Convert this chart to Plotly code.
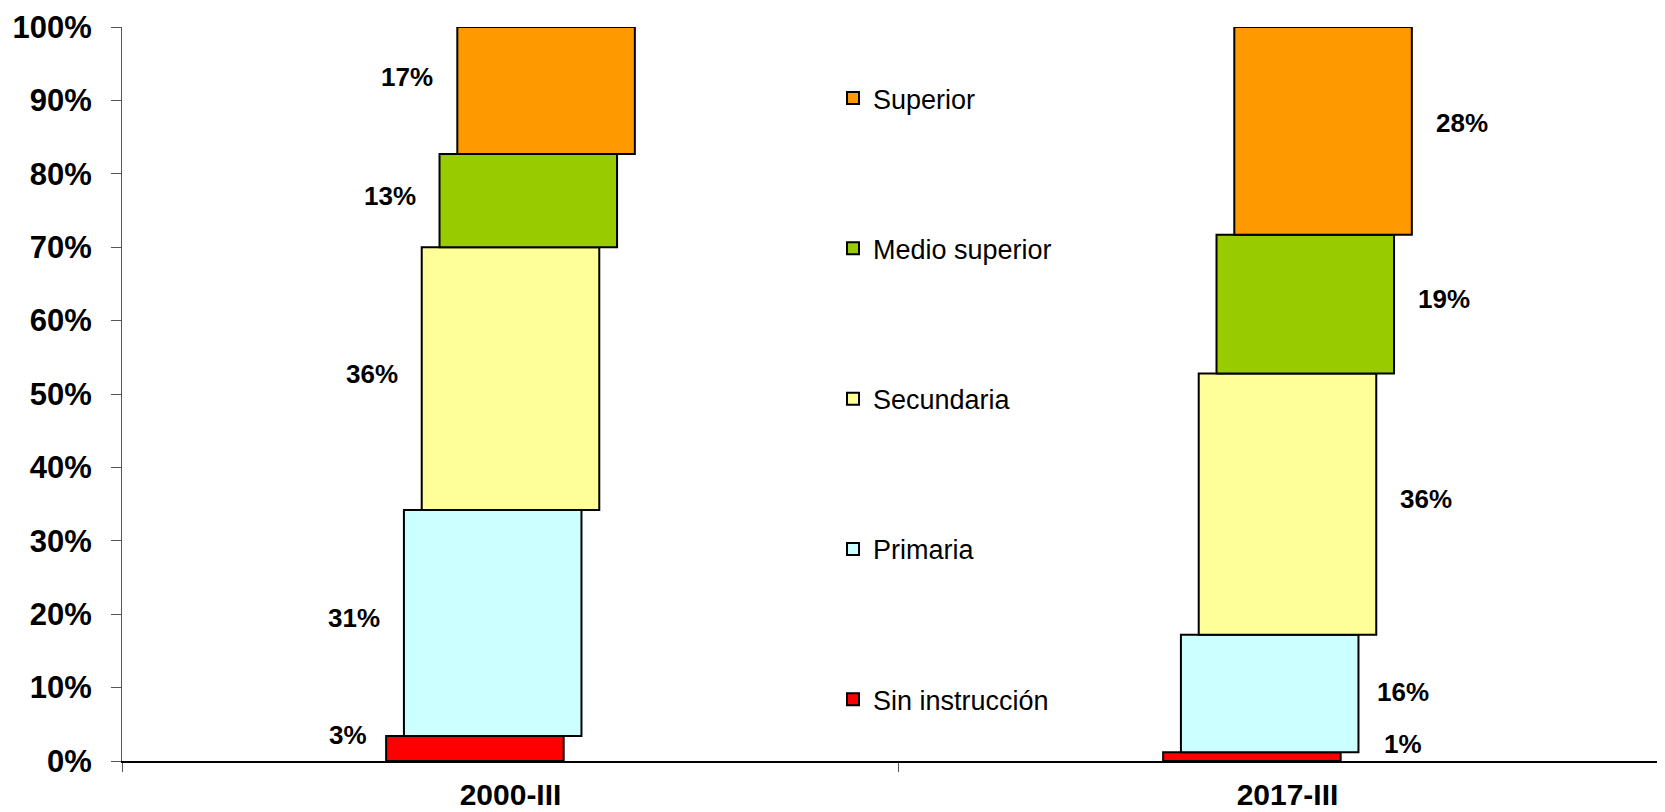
import plotly.graph_objects as go

# ---- data ----
categories = ["2000-III", "2017-III"]
levels = ["Sin instrucción", "Primaria", "Secundaria", "Medio superior", "Superior"]
sin_instruccion = [3.4, 1.2]
primaria = [30.8, 16.0]
secundaria = [35.8, 35.6]
medio_superior = [12.7, 18.9]
superior = [17.3, 28.3]
y_tick_values = list(range(0, 101, 10))
y_tick_labels = [f"{v}%" for v in y_tick_values]

# ---- style ----
series = [sin_instruccion, primaria, secundaria, medio_superior, superior]
colors = ["#FF0000", "#CCFFFF", "#FFFF99", "#99CC00", "#FF9900"]
FONT = "Liberation Sans, Arial, sans-serif"
BAR_W = 0.2285      # bar width in category units
STEP = 0.0229       # horizontal shift between stacked segments (pseudo 3D)
LABEL_GAP = 22
# small pixel nudges for individual labels (level index, category index) -> (dx, dy)
nudges = {(4, 0): (0, 8), (4, 1): (0, 3), (0, 1): (19, 8),
          (0, 0): (5, 9), (1, 1): (-5, -4)}

fig = go.Figure()
bases = [0.0] * len(categories)
annotations = []
n = len(levels)
for i, (name, vals, col) in enumerate(zip(levels, series, colors)):
    off = -BAR_W / 2 + (i - 2) * STEP
    fig.add_trace(go.Bar(
        name=name, x=categories, y=vals, base=list(bases),
        width=BAR_W, offset=off, legendgroup=name, legendrank=n - i,
        marker=dict(color=col, line=dict(color="black", width=2)),
        hoverinfo="skip",
    ))
    for j, v in enumerate(vals):
        mid = bases[j] + v / 2
        dx, dy = nudges.get((i, j), (0, 0))
        if j == 0:
            ax, anchor, xs = j + off, "right", -LABEL_GAP + dx
        else:
            ax, anchor, xs = j + off + BAR_W, "left", LABEL_GAP + dx
        annotations.append(dict(
            x=ax, y=mid, xref="x", yref="y", text=f"{round(v)}%",
            xanchor=anchor, yanchor="middle", xshift=xs, yshift=5 + dy,
            showarrow=False,
            font=dict(family=FONT, size=26, color="black", weight="bold"),
        ))
    bases = [b + v for b, v in zip(bases, vals)]

fig.update_layout(
    width=1657, height=804,
    margin=dict(l=114, r=3, t=19, b=51, autoexpand=False),
    paper_bgcolor="white", plot_bgcolor="white",
    barmode="overlay",
    showlegend=True,
    legend=dict(
        traceorder="grouped", tracegroupgap=112.2,
        x=0.4617, xanchor="left", y=0.936, yanchor="top",
        font=dict(family=FONT, size=27, color="black"),
        bgcolor="rgba(0,0,0,0)",
    ),
    annotations=annotations,
    xaxis=dict(
        type="category", categoryorder="array", categoryarray=categories,
        range=[-0.5, 1.482], showgrid=False,
        showline=True, linecolor="black", linewidth=2,
        ticks="outside", tickson="boundaries", ticklen=9, tickcolor="#555555", tickwidth=1,
        tickfont=dict(family=FONT, size=30, color="black", weight="bold"),
        ticklabelstandoff=6,
    ),
    yaxis=dict(
        range=[0, 100], tickvals=y_tick_values, ticktext=y_tick_labels,
        showgrid=False, zeroline=False,
        showline=True, linecolor="#555555", linewidth=1,
        ticks="outside", ticklen=10, tickcolor="#555555", tickwidth=1,
        tickfont=dict(family=FONT, size=31, color="black", weight="bold"),
        ticklabelstandoff=13,
    ),
)

fig.write_html("out.html")
